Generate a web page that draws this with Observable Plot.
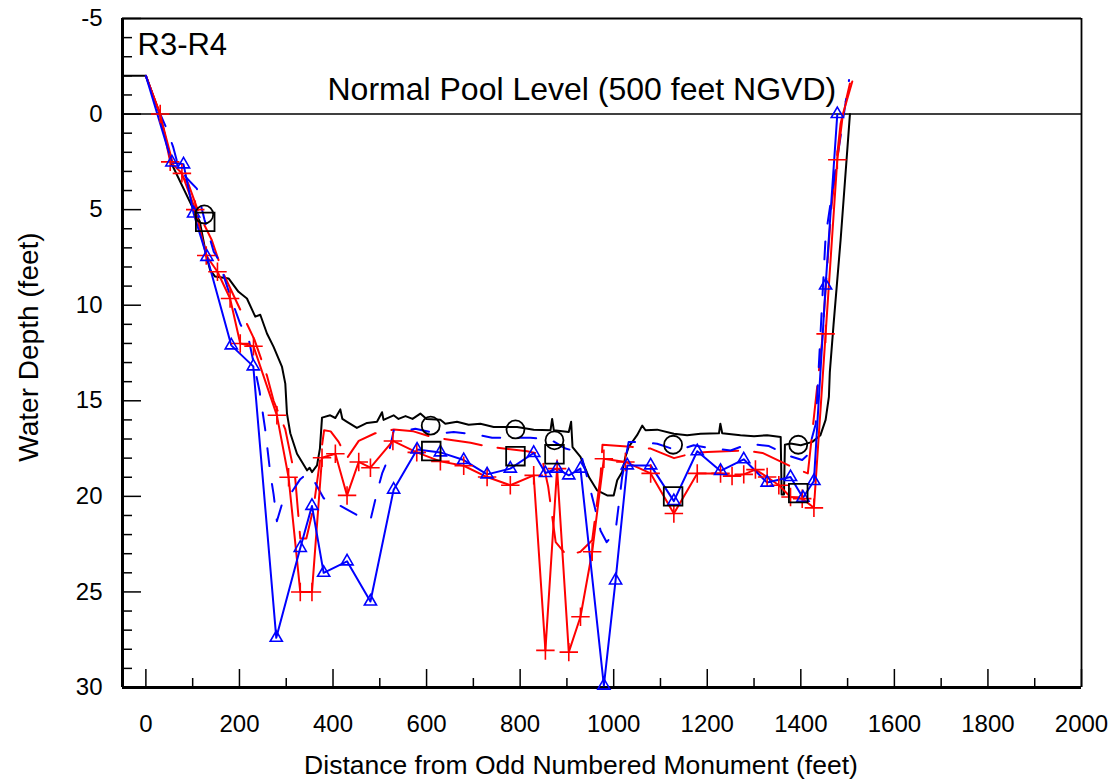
<!DOCTYPE html>
<html><head><meta charset="utf-8">
<script src="https://cdn.jsdelivr.net/npm/d3@7"></script>
<script src="https://cdn.jsdelivr.net/npm/@observablehq/plot@0.6"></script>
<style>body{margin:0;background:#fff} svg{display:block}</style>
</head><body><div id="chart"></div>
<script>
// ---------- data ----------
const xMajorTicks = [0,200,400,600,800,1000,1200,1400,1600,1800,2000];
const xMinorTicks = [100,300,500,700,900,1100,1300,1500,1700,1900];
const yMajorTicks = [-5,0,5,10,15,20,25,30];
const yMinorTicks = d3.range(-4, 30).filter(d => d % 5 !== 0);

// surveyed bottom profile [distance, depth]
const blackProfile = [
  [-50,-2],[0,-2],[30,0],[55,2.6],[102,5.0],[115,5.6],[130,7.5],[137.5,8.17],[148,8.5],[176.7,8.6],
  [198,9.3],[216,9.65],[233.8,10.6],[244.5,10.5],[258.8,11.48],[273,12.18],[291,13.23],[298,14.1],
  [301.6,15.67],[308.7,16.7],[323,17.77],[333.7,18.2],[344.4,18.64],[350,18.5],[355,18.73],[365.8,18.38],
  [372,17.5],[376.5,15.88],[394,15.76],[405,15.9],[415.6,15.45],[420,15.95],[430,16.1],[451,16.42],
  [472.7,16.16],[494,16.1],[504.8,15.6],[508,16.0],[529.6,15.76],[540,15.95],[555,15.8],[570,15.95],
  [586.7,15.67],[600,15.95],[629.5,15.99],[640,16.2],[665,16.1],[690,16.25],[715,16.2],[743.5,16.37],
  [758,16.37],[793.6,16.37],[829,16.51],[865,16.54],[868.4,15.95],[872,16.54],[904,16.63],[909,16.1],
  [912,17.42],[929,17.94],[947,18.99],[964.7,19.69],[986,19.95],[1000,19.95],[1007.5,19.16],[1018,18.73],
  [1025,17.94],[1032,17.42],[1050,16.8],[1061,16.3],[1068,16.54],[1093,16.51],[1128.6,16.72],[1157,16.8],
  [1185.6,16.72],[1225,16.7],[1228,16.2],[1232,16.7],[1271,16.8],[1300,16.85],[1328,16.8],[1357,16.9],
  [1359,19.9],[1364,19.9],[1366,17.3],[1378,17.24],[1400,17.33],[1424.6,17.15],[1442,16.8],[1453,16.0],
  [1460,14.8],[1462,13.5],[1470,11.0],[1485,6.6],[1505,0]
];

// red solid (+ markers)
const redSolid = [
  [0,-2],[30.6,0],[52,2.5],[77,3.1],[105.5,5.0],[129,7.4],[153,8.25],[180,9.65],[201.7,12.0],[230,12.15],
  [280,15.76],[305,19.0],[330,25.0],[355,25.0],[376.5,17.98],[405,17.77],[430,19.95],[455,18.2],[480,18.5],
  [528,17.1],[579,17.7],[629.5,18.17],[679.4,18.4],[729.4,18.99],[779,19.42],[829,18.9],[854,28.06],
  [879,18.55],[904,28.15],[929,26.3],[954,22.9],[979,18.03],[1025,18.2],[1079,18.8],[1128.6,20.9],
  [1178.6,18.8],[1228.4,18.8],[1253,18.94],[1278,18.85],[1303,18.6],[1328,18.99],[1353,19.42],[1378,20.03],
  [1403,20.12],[1428,20.6],[1453,11.5],[1478,2.39],[1490,0],[1510,-1.7]
];

// red dashed
const redDashed = [
  [0,-2],[30,0],[60,2.8],[90,3.6],[115,5.3],[141,6.6],[163,8.2],[180,9.1],[214.5,10.9],[232,11.8],
  [259,13.7],[273,15.0],[298,16.5],[319,19.0],[330,22.2],[343,22.2],[358.6,20.56],[381,16.54],[395,16.6],
  [412,17.15],[430,18.0],[455,17.1],[490,16.7],[530,16.5],[572,16.6],[612,16.9],[694,17.2],[733,17.4],
  [815,17.64],[845,17.8],[860,19.5],[876,22.4],[900,23.1],[929,22.9],[954,22.3],[972,18.9],[976,17.3],
  [1036,17.4],[1079,17.5],[1129,18.0],[1171,17.73],[1200,17.68],[1278,17.6],[1318,17.73],[1389,18.55],
  [1415,18.8],[1445,12.0],[1465,5.0],[1485,0.5],[1505,-1.6]
];

// blue solid (triangle markers)
const blueSolid = [
  [0,-2],[55.6,2.53],[80.5,2.63],[102,5.2],[130.5,7.47],[182.5,12.1],[229.6,13.2],[278.7,27.4],[330,22.7],
  [355,20.5],[380,24.0],[430,23.4],[480,25.5],[529.6,19.65],[579.7,17.55],[629.5,17.7],[679.4,18.1],
  [729.4,18.85],[779,18.55],[829,17.73],[854,18.78],[879,18.55],[904,18.9],[929,18.55],[979,29.9],
  [1004,24.4],[1029,18.38],[1079,18.38],[1128.6,20.25],[1178.6,17.64],[1228.4,18.67],[1278,18.06],
  [1328,19.28],[1378,18.99],[1404.6,20.07],[1428,19.2],[1453,8.97],[1478,0]
];

// blue dashed
const blueDashed = [
  [0,-2],[27,-0.2],[45,0.8],[58,1.7],[70,2.8],[89,3.4],[109,3.9],[125,5.5],[145,7.2],[155,7.6],[180,9.5],
  [202,11.0],[220,11.8],[243,14.5],[255,16.5],[266,18.8],[273,19.9],[280,21.3],[291,20.4],[307,19.95],
  [330,19.1],[345,18.8],[362,19.3],[380,20.1],[416,20.5],[453,21.0],[480,21.25],[494,19.8],[505,18.8],
  [515,18.2],[530,16.54],[558,16.54],[576,16.46],[622,16.72],[658,16.63],[701,16.75],[740,16.93],
  [786,16.93],[822,16.93],[865,17.03],[897,17.5],[929,17.7],[947,19.33],[972,21.8],[985,22.4],[1004,21.8],
  [1011,20.4],[1018,19.0],[1032,17.15],[1057,17.15],[1093,17.25],[1136,17.6],[1171,17.33],[1214,17.5],
  [1250,17.6],[1289,17.25],[1332,17.37],[1371,17.85],[1403,18.1],[1414,17.85],[1432,16.2],[1453,6.4],
  [1503,-1.78]
];

// black open circles and squares
const circlePoints = [[124.7,5.25],[608.8,16.3],[790,16.5],[873.4,17.07],[1127,17.3],[1394.5,17.3]];
const squarePoints = [[126.8,5.64],[610,17.63],[790,17.9],[873.4,17.8],[1127,20.0],[1394.5,19.83]];

const titleText = "R3-R4";
const poolText = "Normal Pool Level (500 feet NGVD)";
const xLabel = "Distance from Odd Numbered Monument (feet)";
const yLabel = "Water Depth (feet)";

// ---------- layout ----------
const W = 1116, H = 783;
const mL = 122, mR = 35, mT = 18, mB = 96;
const xDom = [-50, 2000], yDom = [-5, 30];
const pxPerFt = (H - mT - mB) / (yDom[1] - yDom[0]);
const pxPerX = (W - mL - mR) / (xDom[1] - xDom[0]);
const font = "'Liberation Sans', Arial, Helvetica, sans-serif";

const X = d => d[0], Y = d => d[1];
const redMarkers = redSolid.slice(1, -2);
const blueMarkers = blueSolid.slice(1);

const chart = Plot.plot({
  width: W, height: H,
  marginLeft: mL, marginRight: mR, marginTop: mT, marginBottom: mB,
  x: {domain: xDom, axis: null},
  y: {domain: yDom, reverse: true, axis: null},
  style: {fontFamily: font, background: "white", color: "black"},
  marks: [
    // pool level line
    Plot.ruleY([0], {stroke: "black", strokeWidth: 1.5}),
    // frame
    Plot.ruleY([yDom[0]], {stroke: "black", strokeWidth: 1.8}),
    Plot.ruleX([xDom[1]], {stroke: "black", strokeWidth: 1.8}),
    Plot.ruleX([xDom[0]], {stroke: "black", strokeWidth: 3}),
    Plot.ruleY([yDom[1]], {stroke: "black", strokeWidth: 3}),
    // inward ticks
    Plot.ruleX(xMajorTicks, {x: d => d, y1: yDom[1], y2: yDom[1] - 18 / pxPerFt, stroke: "black", strokeWidth: 1.5}),
    Plot.ruleX(xMinorTicks, {x: d => d, y1: yDom[1], y2: yDom[1] - 9 / pxPerFt, stroke: "black", strokeWidth: 1.5}),
    Plot.ruleY(yMajorTicks, {y: d => d, x1: xDom[0], x2: xDom[0] + 19 / pxPerX, stroke: "black", strokeWidth: 1.5}),
    Plot.ruleY(yMinorTicks, {y: d => d, x1: xDom[0], x2: xDom[0] + 10 / pxPerX, stroke: "black", strokeWidth: 1.5}),
    // tick labels
    Plot.text(xMajorTicks, {x: d => d, text: d => String(d), frameAnchor: "bottom", dy: 44, lineAnchor: "bottom", textAnchor: "middle", fontSize: 24, fill: "black"}),
    Plot.text(yMajorTicks, {y: d => d, text: d => String(d), frameAnchor: "left", dx: -20, lineAnchor: "middle", textAnchor: "end", fontSize: 24, fill: "black"}),
    // axis titles
    Plot.text([xLabel], {text: d => d, frameAnchor: "bottom", dx: -21, dy: 86, lineAnchor: "bottom", textAnchor: "middle", fontSize: 26.5, fill: "black"}),
    Plot.text([yLabel], {text: d => d, frameAnchor: "left", dx: -85, dy: -6, rotate: -90, lineAnchor: "bottom", textAnchor: "middle", fontSize: 28, fill: "black"}),
    // annotations
    Plot.text([titleText], {text: d => d, frameAnchor: "top-left", dx: 15, dy: 36, lineAnchor: "bottom", textAnchor: "start", fontSize: 31, fill: "black"}),
    Plot.text([poolText], {text: d => d, frameAnchor: "top-left", dx: 205, dy: 81.5, lineAnchor: "bottom", textAnchor: "start", fontSize: 32, fill: "black"}),
    // data lines
    Plot.line(blackProfile, {x: X, y: Y, stroke: "black", strokeWidth: 2}),
    Plot.line(redDashed, {x: X, y: Y, stroke: "#ff0000", strokeWidth: 2, strokeDasharray: "38,16"}),
    Plot.line(blueDashed, {x: X, y: Y, stroke: "#0000ff", strokeWidth: 2, strokeDasharray: "18,18"}),
    Plot.line(redSolid, {x: X, y: Y, stroke: "#ff0000", strokeWidth: 2}),
    Plot.line(blueSolid, {x: X, y: Y, stroke: "#0000ff", strokeWidth: 2}),
    Plot.dot(redMarkers, {x: X, y: Y, symbol: "plus", r: 6, stroke: "#ff0000", strokeWidth: 1.6}),
    Plot.dot(blueMarkers, {x: X, y: Y, symbol: "triangle", r: 4.5, stroke: "#0000ff", fill: "none", strokeWidth: 1.6}),
    Plot.dot(circlePoints, {x: X, y: Y, symbol: "circle", r: 9, stroke: "black", fill: "none", strokeWidth: 1.8}),
    Plot.dot(squarePoints, {x: X, y: Y, symbol: "square", r: 10.5, stroke: "black", fill: "none", strokeWidth: 1.8})
  ]
});
document.getElementById("chart").appendChild(chart);
</script>
</body></html>
